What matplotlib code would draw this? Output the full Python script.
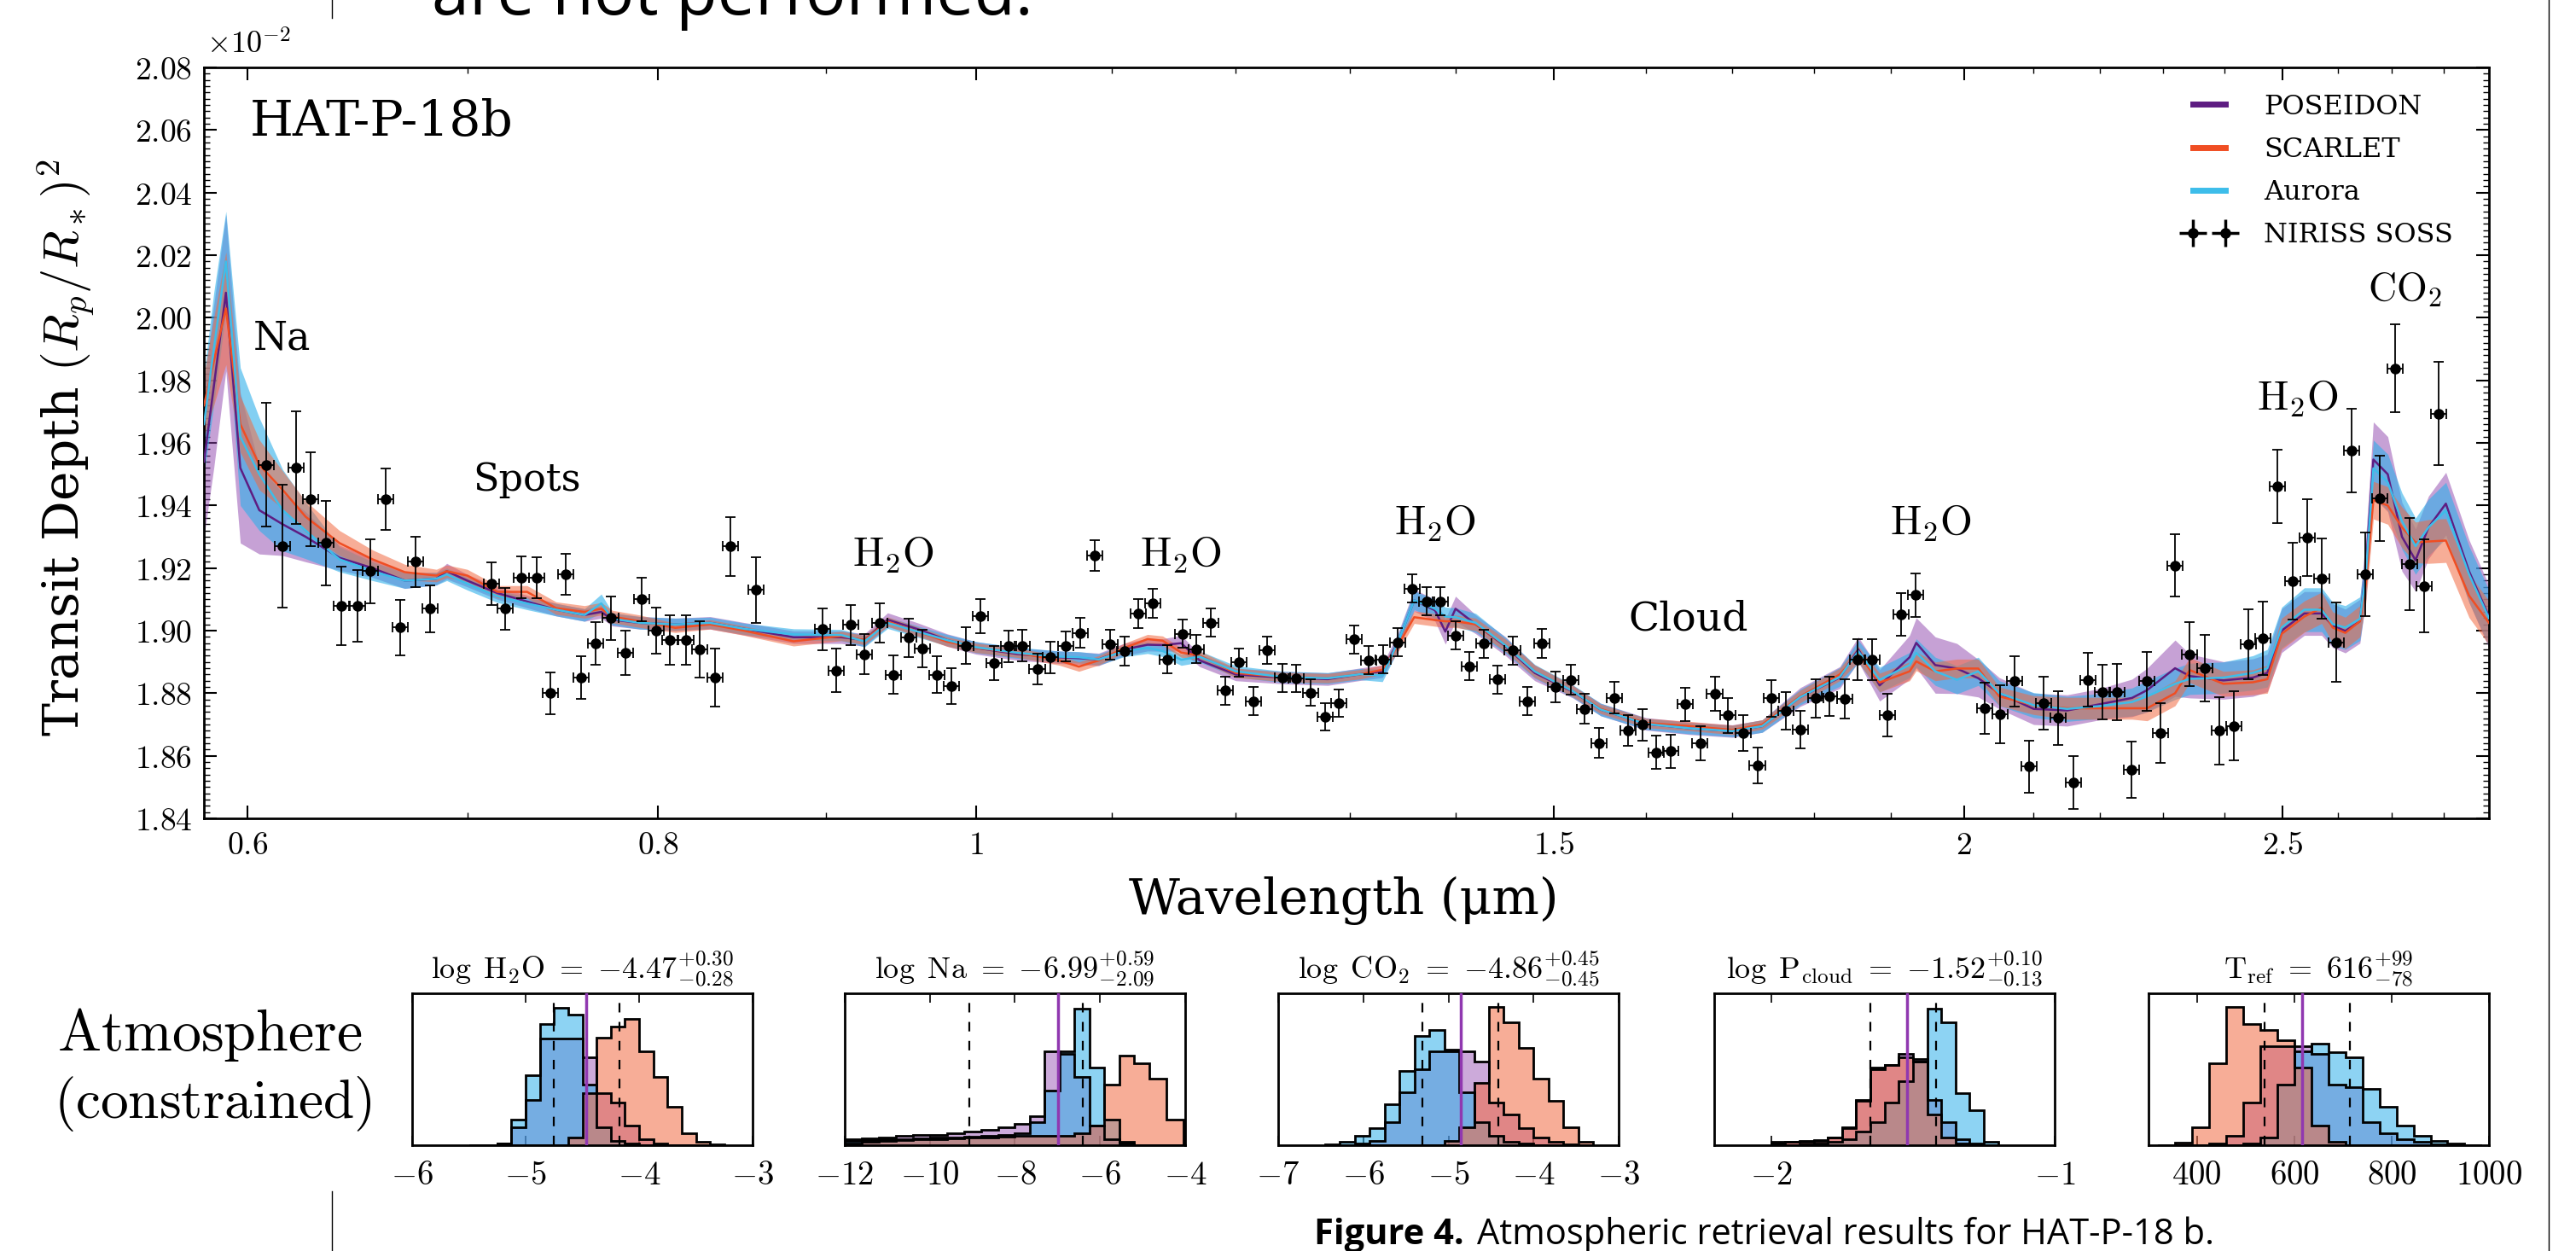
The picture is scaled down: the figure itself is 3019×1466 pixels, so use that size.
import numpy as np
import matplotlib
matplotlib.use('Agg')
import matplotlib.pyplot as plt
from matplotlib.lines import Line2D
from matplotlib.ticker import FixedLocator, FixedFormatter, MultipleLocator, NullFormatter

plt.rcParams['font.family'] = 'DejaVu Serif'
plt.rcParams['mathtext.fontset'] = 'cm'

# NIRISS SOSS transmission spectrum (transit depth in units of 1e-2)
wl = [0.608, 0.615, 0.621, 0.627, 0.634, 0.641, 0.648, 0.654, 0.661, 0.668,
      0.675, 0.682, 0.712, 0.719, 0.727, 0.735, 0.742, 0.750, 0.758, 0.766,
      0.774, 0.782, 0.791, 0.799, 0.807, 0.816, 0.824, 0.833, 0.842, 0.857,
      0.898, 0.907, 0.916, 0.925, 0.935, 0.944, 0.954, 0.963, 0.973, 0.983,
      0.993, 1.003, 1.013, 1.023, 1.033, 1.044, 1.054, 1.065, 1.076, 1.087,
      1.099, 1.110, 1.121, 1.132, 1.144, 1.156, 1.167, 1.179, 1.191, 1.203,
      1.215, 1.227, 1.240, 1.252, 1.265, 1.278, 1.290, 1.304, 1.317, 1.331,
      1.344, 1.358, 1.372, 1.385, 1.400, 1.414, 1.428, 1.442, 1.457, 1.472,
      1.487, 1.502, 1.518, 1.533, 1.548, 1.565, 1.580, 1.596, 1.612, 1.628,
      1.645, 1.662, 1.679, 1.695, 1.713, 1.730, 1.747, 1.765, 1.783, 1.802,
      1.820, 1.839, 1.856, 1.875, 1.895, 1.914, 1.933, 2.029, 2.051, 2.072,
      2.093, 2.115, 2.136, 2.159, 2.182, 2.204, 2.226, 2.249, 2.273, 2.296,
      2.319, 2.343, 2.368, 2.392, 2.416, 2.441, 2.466, 2.492, 2.518, 2.544,
      2.570, 2.597, 2.624, 2.650, 2.677, 2.706, 2.734, 2.761, 2.790]
depth = [1.953, 1.927, 1.952, 1.942, 1.928, 1.908, 1.908, 1.919, 1.942, 1.901,
         1.922, 1.907, 1.915, 1.907, 1.917, 1.917, 1.880, 1.918, 1.885, 1.896,
         1.904, 1.893, 1.910, 1.900, 1.897, 1.897, 1.894, 1.885, 1.927, 1.913,
         1.9005, 1.8873, 1.9018, 1.8924, 1.9025, 1.8859, 1.8977, 1.8943, 1.8859, 1.8823,
         1.8952, 1.9047, 1.8897, 1.8950, 1.8952, 1.8877, 1.8915, 1.8950, 1.8993, 1.9240,
         1.8956, 1.8935, 1.9054, 1.9088, 1.8908, 1.8990, 1.8941, 1.9026, 1.8808, 1.8899,
         1.8774, 1.8938, 1.8850, 1.8847, 1.8802, 1.8725, 1.8768, 1.8972, 1.8906, 1.8908,
         1.8963, 1.9135, 1.9093, 1.9093, 1.8984, 1.8886, 1.8959, 1.8844, 1.8937, 1.8774,
         1.8959, 1.8820, 1.8843, 1.8750, 1.8641, 1.8786, 1.8681, 1.8699, 1.8611, 1.8615,
         1.8765, 1.8641, 1.8799, 1.8729, 1.8672, 1.8570, 1.8784, 1.8743, 1.8684, 1.8784,
         1.8790, 1.8781, 1.8908, 1.8908, 1.8729, 1.9052, 1.9114, 1.8752, 1.8732, 1.8838,
         1.8566, 1.8768, 1.8721, 1.8515, 1.8843, 1.8804, 1.8804, 1.8555, 1.8838, 1.8673,
         1.9208, 1.8925, 1.8880, 1.8680, 1.8696, 1.8956, 1.8976, 1.9462, 1.9159, 1.9298,
         1.9166, 1.8963, 1.9575, 1.9180, 1.9423, 1.9838, 1.9213, 1.9143, 1.9694]
depth_err = [0.0197, 0.0197, 0.0180, 0.0150, 0.0136, 0.0125, 0.0115, 0.0103, 0.0098, 0.0089,
             0.0081, 0.0076, 0.0067, 0.0066, 0.0067, 0.0065, 0.0066, 0.0065, 0.0068, 0.0068,
             0.0069, 0.0071, 0.0070, 0.0074, 0.0080, 0.0079, 0.0089, 0.0093, 0.0094, 0.0105,
             0.0067, 0.0070, 0.0065, 0.0064, 0.0063, 0.0061, 0.0061, 0.0060, 0.0058, 0.0058,
             0.0058, 0.0055, 0.0054, 0.0051, 0.0051, 0.0050, 0.0050, 0.0048, 0.0048, 0.0049,
             0.0048, 0.0046, 0.0047, 0.0047, 0.0045, 0.0045, 0.0045, 0.0045, 0.0045, 0.0045,
             0.0045, 0.0044, 0.0045, 0.0044, 0.0043, 0.0044, 0.0043, 0.0045, 0.0045, 0.0045,
             0.0045, 0.0045, 0.0045, 0.0045, 0.0045, 0.0045, 0.0045, 0.0045, 0.0045, 0.0045,
             0.0047, 0.0048, 0.0048, 0.0048, 0.0048, 0.0050, 0.0050, 0.0050, 0.0053, 0.0053,
             0.0053, 0.0055, 0.0055, 0.0055, 0.0057, 0.0057, 0.0058, 0.0060, 0.0060, 0.0062,
             0.0062, 0.0063, 0.0065, 0.0065, 0.0068, 0.0068, 0.0070, 0.0082, 0.0093, 0.0080,
             0.0083, 0.0084, 0.0085, 0.0085, 0.0086, 0.0088, 0.0089, 0.0090, 0.0093, 0.0096,
             0.0100, 0.0103, 0.0106, 0.0107, 0.0110, 0.0112, 0.0117, 0.0117, 0.0123, 0.0123,
             0.0129, 0.0127, 0.0133, 0.0133, 0.0136, 0.0140, 0.0147, 0.0148, 0.0164]
bin_half_frac = 0.0054   # half bin width as a fraction of wavelength (R~95)

# retrieved model spectra: median and 1-sigma half width
model_wl = [0.582, 0.586, 0.591, 0.597, 0.605, 0.615, 0.625, 0.640, 0.655, 0.670,
            0.685, 0.690, 0.700, 0.715, 0.730, 0.745, 0.760, 0.769, 0.775, 0.790,
            0.810, 0.830, 0.850, 0.880, 0.910, 0.925, 0.940, 0.960, 0.980, 1.000,
            1.030, 1.060, 1.075, 1.090, 1.110, 1.128, 1.140, 1.155, 1.170, 1.200,
            1.240, 1.280, 1.310, 1.330, 1.345, 1.360, 1.380, 1.390, 1.400, 1.420,
            1.450, 1.480, 1.520, 1.550, 1.600, 1.650, 1.700, 1.736, 1.783, 1.833,
            1.857, 1.885, 1.925, 1.934, 1.960, 1.990, 2.020, 2.050, 2.100, 2.150,
            2.200, 2.250, 2.274, 2.319, 2.343, 2.399, 2.449, 2.474, 2.499, 2.539,
            2.570, 2.590, 2.613, 2.640, 2.651, 2.665, 2.692, 2.719, 2.745, 2.770,
            2.804, 2.850, 2.890]
aurora_med = [1.966, 1.990, 2.018, 1.962, 1.950, 1.9385, 1.932, 1.9228, 1.919, 1.916,
              1.9166, 1.918, 1.915, 1.911, 1.9087, 1.9067, 1.905, 1.9087, 1.9038, 1.9025,
              1.902, 1.9025, 1.9006, 1.8988, 1.8986, 1.8966, 1.9025, 1.8997, 1.897, 1.8947,
              1.8929, 1.8917, 1.8915, 1.8908, 1.8935, 1.8945, 1.8935, 1.8907, 1.8917, 1.887,
              1.8852, 1.8848, 1.8861, 1.8857, 1.8966, 1.9097, 1.907, 1.9045, 1.9043, 1.9025,
              1.8953, 1.887, 1.8807, 1.8748, 1.8702, 1.8688, 1.8679, 1.8695, 1.8788, 1.8852,
              1.8934, 1.8843, 1.8890, 1.8929, 1.8870, 1.8843, 1.8870, 1.8800, 1.8762, 1.8750,
              1.8759, 1.8772, 1.8790, 1.8830, 1.8846, 1.8850, 1.8865, 1.8880, 1.9010, 1.9067,
              1.9067, 1.9021, 1.9010, 1.9038, 1.9180, 1.9519, 1.9474, 1.9350, 1.9270, 1.9330,
              1.9384, 1.9180, 1.9040]
aurora_hw = [0.016, 0.018, 0.016, 0.022, 0.018, 0.013, 0.009, 0.004, 0.003, 0.0025,
             0.002, 0.002, 0.002, 0.002, 0.002, 0.002, 0.002, 0.003, 0.002, 0.002,
             0.002, 0.0018, 0.0018, 0.0018, 0.0018, 0.0018, 0.0018, 0.0018, 0.0018, 0.0018,
             0.0018, 0.0018, 0.0018, 0.0018, 0.0018, 0.0018, 0.0018, 0.0018, 0.0018, 0.0018,
             0.0018, 0.0018, 0.0018, 0.002, 0.0025, 0.003, 0.003, 0.003, 0.003, 0.003,
             0.0025, 0.0022, 0.002, 0.002, 0.0018, 0.0018, 0.0018, 0.002, 0.0025, 0.003,
             0.0035, 0.004, 0.004, 0.0045, 0.0045, 0.0045, 0.0045, 0.004, 0.004, 0.004,
             0.004, 0.0045, 0.005, 0.005, 0.005, 0.005, 0.0055, 0.006, 0.0065, 0.007,
             0.007, 0.007, 0.007, 0.007, 0.008, 0.009, 0.009, 0.009, 0.009, 0.009,
             0.009, 0.009, 0.009]
poseidon_med = [1.954, 1.978, 2.008, 1.952, 1.9385, 1.934, 1.930, 1.9233, 1.920, 1.916,
                1.9166, 1.919, 1.916, 1.912, 1.9093, 1.9067, 1.905, 1.906, 1.9035, 1.9025,
                1.902, 1.9025, 1.9006, 1.8979, 1.8979, 1.8970, 1.9035, 1.9005, 1.897, 1.8945,
                1.8925, 1.8915, 1.8912, 1.8908, 1.894, 1.8955, 1.8954, 1.8960, 1.8905, 1.886,
                1.8850, 1.8845, 1.8861, 1.8870, 1.8966, 1.9097, 1.9065, 1.8997, 1.907, 1.9020,
                1.8950, 1.8865, 1.8805, 1.8748, 1.8702, 1.8688, 1.8679, 1.8695, 1.8788, 1.8850,
                1.8940, 1.8825, 1.8915, 1.8961, 1.8890, 1.8879, 1.8848, 1.8800, 1.8750, 1.8745,
                1.8765, 1.8785, 1.8810, 1.8880, 1.8855, 1.8841, 1.8850, 1.8865, 1.9000, 1.9055,
                1.9055, 1.9016, 1.8999, 1.9030, 1.9200, 1.9547, 1.9500, 1.9300, 1.9225, 1.9330,
                1.9406, 1.9190, 1.9045]
poseidon_hw = [0.024, 0.026, 0.025, 0.024, 0.014, 0.010, 0.008, 0.004, 0.003, 0.0025,
               0.002, 0.0025, 0.002, 0.002, 0.002, 0.002, 0.002, 0.002, 0.002, 0.002,
               0.002, 0.002, 0.002, 0.002, 0.002, 0.002, 0.0022, 0.002, 0.002, 0.002,
               0.002, 0.002, 0.002, 0.002, 0.002, 0.002, 0.002, 0.0025, 0.002, 0.002,
               0.002, 0.002, 0.002, 0.002, 0.003, 0.0035, 0.0035, 0.004, 0.004, 0.003,
               0.003, 0.0025, 0.002, 0.002, 0.002, 0.002, 0.002, 0.002, 0.003, 0.0035,
               0.004, 0.005, 0.007, 0.008, 0.009, 0.008, 0.006, 0.005, 0.005, 0.005,
               0.005, 0.006, 0.007, 0.009, 0.007, 0.006, 0.006, 0.006, 0.007, 0.007,
               0.007, 0.007, 0.007, 0.007, 0.010, 0.012, 0.012, 0.011, 0.010, 0.010,
               0.010, 0.010, 0.010]
scarlet_med = [1.972, 1.986, 2.003, 1.966, 1.953, 1.945, 1.9364, 1.928, 1.9228, 1.9187,
               1.9176, 1.919, 1.9176, 1.9124, 1.9124, 1.9072, 1.906, 1.907, 1.9045, 1.903,
               1.9009, 1.902, 1.900, 1.8966, 1.8983, 1.897, 1.9029, 1.8997, 1.8965, 1.8945,
               1.8929, 1.8905, 1.8885, 1.8905, 1.8945, 1.8973, 1.8968, 1.8930, 1.8920, 1.8865,
               1.8852, 1.8848, 1.8861, 1.8875, 1.8955, 1.9043, 1.9034, 1.9030, 1.9030, 1.9020,
               1.8953, 1.8870, 1.8807, 1.8750, 1.8705, 1.8695, 1.8683, 1.8700, 1.8790, 1.8860,
               1.8925, 1.8834, 1.8870, 1.8902, 1.8870, 1.8879, 1.8879, 1.8790, 1.8762, 1.8752,
               1.8752, 1.8752, 1.8752, 1.8800, 1.8874, 1.8830, 1.8835, 1.8845, 1.8990, 1.9045,
               1.9073, 1.9010, 1.8993, 1.9030, 1.9150, 1.9417, 1.9400, 1.9330, 1.9282, 1.9285,
               1.9288, 1.9112, 1.9025]
scarlet_hw = [0.010, 0.014, 0.018, 0.009, 0.008, 0.006, 0.005, 0.004, 0.003, 0.0025,
              0.002, 0.002, 0.002, 0.002, 0.002, 0.002, 0.002, 0.002, 0.002, 0.002,
              0.0015, 0.0015, 0.0015, 0.0015, 0.0015, 0.0015, 0.0015, 0.0015, 0.0015, 0.0015,
              0.0015, 0.0015, 0.0015, 0.0015, 0.0015, 0.0015, 0.0015, 0.0015, 0.0015, 0.0015,
              0.0015, 0.0015, 0.0015, 0.0015, 0.002, 0.002, 0.002, 0.002, 0.002, 0.002,
              0.002, 0.002, 0.0018, 0.0015, 0.0015, 0.0015, 0.0015, 0.0015, 0.002, 0.002,
              0.0025, 0.003, 0.003, 0.003, 0.003, 0.003, 0.003, 0.003, 0.003, 0.0035,
              0.0035, 0.0035, 0.004, 0.004, 0.004, 0.004, 0.004, 0.0045, 0.005, 0.005,
              0.005, 0.005, 0.005, 0.005, 0.006, 0.006, 0.006, 0.0065, 0.0065, 0.007,
              0.007, 0.007, 0.007]

# posterior histograms (normalised heights)
h2o_edges = [-5.5, -5.375, -5.25, -5.125, -5.0, -4.875, -4.75, -4.625, -4.5, -4.375,
             -4.25, -4.125, -4.0, -3.875, -3.75, -3.625, -3.5, -3.375, -3.25]
h2o_poseidon = [0.0, 0.0, 0.01, 0.12, 0.30, 0.70, 0.70, 0.70, 0.58, 0.34, 0.28, 0.13, 0.04, 0.01, 0, 0, 0, 0]
h2o_aurora = [0.0, 0.002, 0.01, 0.17, 0.46, 0.80, 0.905, 0.86, 0.40, 0.12, 0.03, 0.01, 0, 0, 0, 0, 0, 0]
h2o_scarlet = [0, 0, 0, 0, 0, 0, 0, 0.05, 0.34, 0.71, 0.78, 0.83, 0.62, 0.45, 0.25, 0.08, 0.02, 0.005]

na_edges = [-12.0, -11.6, -11.2, -10.8, -10.4, -10.0, -9.6, -9.2, -8.8, -8.4, -8.0,
            -7.65, -7.3, -6.95, -6.6, -6.25, -5.9, -5.55, -5.2, -4.85, -4.45, -4.05]
na_poseidon = [0.04, 0.045, 0.05, 0.06, 0.065, 0.07, 0.08, 0.09, 0.10, 0.12, 0.14,
               0.19, 0.62, 0.60, 0.45, 0.13, 0.04, 0.01, 0, 0, 0]
na_aurora = [0.03, 0.035, 0.04, 0.04, 0.045, 0.05, 0.05, 0.055, 0.06, 0.065, 0.08,
             0.15, 0.36, 0.62, 0.90, 0.51, 0.17, 0.02, 0, 0, 0]
na_scarlet = [0.01, 0.02, 0.03, 0.035, 0.04, 0.04, 0.045, 0.05, 0.05, 0.055, 0.06,
              0.06, 0.06, 0.06, 0.08, 0.13, 0.40, 0.59, 0.54, 0.44, 0.17]

co2_edges = [-6.45, -6.275, -6.10, -5.925, -5.75, -5.575, -5.40, -5.225, -5.05, -4.875,
             -4.70, -4.525, -4.35, -4.175, -4.00, -3.825, -3.65, -3.475, -3.30]
co2_poseidon = [0.0, 0.0, 0.01, 0.03, 0.15, 0.35, 0.50, 0.62, 0.62, 0.62, 0.55, 0.28, 0.20, 0.11, 0.05, 0.02, 0.005, 0.0]
co2_aurora = [0.005, 0.02, 0.06, 0.11, 0.27, 0.49, 0.72, 0.76, 0.63, 0.35, 0.15, 0.06, 0.02, 0.01, 0, 0, 0, 0]
co2_scarlet = [0, 0, 0, 0, 0, 0, 0, 0, 0.03, 0.12, 0.41, 0.91, 0.81, 0.64, 0.44, 0.29, 0.12, 0.02]

pc_edges = [-2.00, -1.95, -1.90, -1.85, -1.80, -1.75, -1.70, -1.65, -1.60, -1.55,
            -1.50, -1.45, -1.40, -1.35, -1.30, -1.25, -1.20]
pc_poseidon = [0.01, 0.02, 0.025, 0.03, 0.05, 0.12, 0.29, 0.50, 0.53, 0.60, 0.57, 0.30, 0.15, 0.04, 0.01, 0.0]
pc_aurora = [0.0, 0.0, 0.005, 0.01, 0.02, 0.04, 0.09, 0.15, 0.28, 0.42, 0.55, 0.90, 0.81, 0.34, 0.23, 0.02]
pc_scarlet = [0.02, 0.025, 0.03, 0.035, 0.05, 0.11, 0.30, 0.51, 0.53, 0.58, 0.55, 0.20, 0.05, 0.01, 0.0, 0.0]

tref_edges = [320, 355, 390, 425, 460, 495, 530, 565, 600, 635, 670, 705, 740, 775, 810,
              845, 880, 915, 950, 985]
tref_poseidon = [0, 0, 0, 0.01, 0.06, 0.28, 0.65, 0.65, 0.65, 0.60, 0.40, 0.38, 0.15, 0.08, 0.04, 0.02, 0.005, 0, 0]
tref_aurora = [0, 0, 0, 0, 0, 0.01, 0.05, 0.40, 0.62, 0.67, 0.61, 0.58, 0.37, 0.25, 0.13, 0.06, 0.03, 0.01, 0]
tref_scarlet = [0, 0.015, 0.12, 0.54, 0.91, 0.80, 0.76, 0.69, 0.51, 0.13, 0.02, 0, 0, 0, 0, 0, 0, 0, 0]

# median, +err, -err for the panel titles
post_median = [-4.47, -6.99, -4.86, -1.52, 616]
post_plus = [0.30, 0.59, 0.45, 0.10, 99]
post_minus = [0.28, 2.09, 0.45, 0.13, 78]

# colours
c_pos, c_sca, c_aur = '#5e1d82', '#f04e23', '#3dbdea'
f_pos, f_sca, f_aur = '#8e44ad', '#f26a42', '#2fb0ea'

fig = plt.figure(figsize=(30.19, 14.66), dpi=100)
ax = fig.add_axes([0.0792, 0.3458, 0.8870, 0.6003])

mw = np.array(model_wl)
for med, hw, fc, a in [(poseidon_med, poseidon_hw, f_pos, 0.5),
                       (aurora_med, aurora_hw, f_aur, 0.6),
                       (scarlet_med, scarlet_hw, f_sca, 0.55)]:
    med = np.array(med); hw = np.array(hw)
    ax.fill_between(mw, med - hw, med + hw, color=fc, alpha=a, lw=0, zorder=2)
ax.plot(mw, poseidon_med, color=c_pos, lw=1.8, zorder=3)
ax.plot(mw, scarlet_med, color=c_sca, lw=1.8, zorder=3)
ax.plot(mw, aurora_med, color=c_aur, lw=1.8, zorder=3)

w = np.array(wl)
ax.errorbar(w, depth, xerr=w * bin_half_frac, yerr=depth_err, fmt='o', color='k',
            ms=8, elinewidth=1.3, capsize=4.5, capthick=1.3, zorder=5)

ax.set_xscale('log')
ax.set_xlim(0.582, 2.89)
ax.set_ylim(1.84, 2.08)
xt = [0.6, 0.8, 1.0, 1.5, 2.0, 2.5]
ax.xaxis.set_major_locator(FixedLocator(xt))
ax.xaxis.set_major_formatter(FixedFormatter(['$0.6$', '$0.8$', '$1$', '$1.5$', '$2$', '$2.5$']))
ax.xaxis.set_minor_locator(FixedLocator([0.7, 0.9, 1.1, 1.2, 1.3, 1.4, 1.6, 1.7, 1.8, 1.9,
                                         2.1, 2.2, 2.3, 2.4, 2.6, 2.7, 2.8]))
ax.xaxis.set_minor_formatter(NullFormatter())
yt = [1.84 + 0.02 * i for i in range(13)]
ax.yaxis.set_major_locator(FixedLocator(yt))
ax.yaxis.set_major_formatter(FixedFormatter(['$%.2f$' % v for v in yt]))
ax.yaxis.set_minor_locator(MultipleLocator(0.002))
ax.tick_params(which='both', direction='in', top=True, right=True, labelsize=27)
ax.tick_params(which='major', length=11, width=1.5, pad=10)
ax.tick_params(which='minor', length=5, width=1.0)
for s in ax.spines.values():
    s.set_linewidth(2)

fig.text(0.0802, 0.9645, r'$\times10^{-2}$', fontsize=26, va='center', ha='left')
fig.text(0.0255, 0.642, r'Transit Depth $(R_p/R_*)^2$', fontsize=42, rotation=90,
         ha='center', va='center')
fig.text(0.5217, 0.2804, 'Wavelength (μm)', fontsize=42, ha='center', va='center')

ax.text(0.0202, 0.909, 'HAT-P-18b', transform=ax.transAxes, fontsize=42, va='baseline')
ax.text(0.6026, 1.9898, 'Na', fontsize=33, va='baseline')
ax.text(0.7026, 1.9447, 'Spots', fontsize=32, va='baseline')
ax.text(1.580, 1.9002, 'Cloud', fontsize=34, va='baseline')
for x0, y0 in [(0.917, 1.9206), (1.122, 1.9206), (1.341, 1.9306), (1.899, 1.9306), (2.456, 1.9705)]:
    ax.text(x0, y0, r'$\mathrm{H_2O}$', fontsize=35, va='baseline')
ax.text(2.655, 2.0056, r'$\mathrm{CO_2}$', fontsize=33, va='baseline')

handles = [Line2D([], [], color=c_pos, lw=5), Line2D([], [], color=c_sca, lw=5),
           Line2D([], [], color=c_aur, lw=5)]
eb = ax.errorbar([], [], xerr=[], yerr=[], fmt='o', color='k', ms=8, elinewidth=2.5,
                 capsize=5, capthick=1.5)
ax.legend(handles + [eb], ['POSEIDON', 'SCARLET', 'Aurora', 'NIRISS SOSS'],
          loc='upper right', bbox_to_anchor=(0.995, 0.998), frameon=False, fontsize=23,
          numpoints=2, handlelength=1.8, handletextpad=1.1, labelspacing=0.6)

# posterior panels
panels = [
    (0.1600, h2o_edges, h2o_poseidon, h2o_aurora, h2o_scarlet, (-6, -3), [-6, -5, -4, -3],
     r'$\log\ \mathrm{H_2O}\ =\ {-4.47}^{+0.30}_{-0.28}$'),
    (0.3279, na_edges, na_poseidon, na_aurora, na_scarlet, (-12, -4), [-12, -10, -8, -6, -4],
     r'$\log\ \mathrm{Na}\ =\ {-6.99}^{+0.59}_{-2.09}$'),
    (0.4962, co2_edges, co2_poseidon, co2_aurora, co2_scarlet, (-7, -3), [-7, -6, -5, -4, -3],
     r'$\log\ \mathrm{CO_2}\ =\ {-4.86}^{+0.45}_{-0.45}$'),
    (0.6655, pc_edges, pc_poseidon, pc_aurora, pc_scarlet, (-2.2, -1.0), [-2, -1],
     r'$\log\ \mathrm{P_{cloud}}\ =\ {-1.52}^{+0.10}_{-0.13}$'),
    (0.8340, tref_edges, tref_poseidon, tref_aurora, tref_scarlet, (300, 1000), [400, 600, 800, 1000],
     r'$\mathrm{T_{ref}}\ =\ 616^{+99}_{-78}$'),
]
for i, (x0, edges, hp, ha_, hs, xl, ticks, title) in enumerate(panels):
    axh = fig.add_axes([x0, 0.0846, 0.1322, 0.1214])
    for h, fc, a in [(hp, f_pos, 0.45), (ha_, f_aur, 0.55), (hs, f_sca, 0.55)]:
        axh.stairs(h, edges, fill=True, color=fc, alpha=a, zorder=2)
    for h in [hp, ha_, hs]:
        axh.stairs(h, edges, color='k', lw=2, zorder=3)
    m = post_median[i]
    axh.axvline(m - post_minus[i], color='k', ls=(0, (5, 5)), lw=1.6, zorder=4)
    axh.axvline(m + post_plus[i], color='k', ls=(0, (5, 5)), lw=1.6, zorder=4)
    axh.axvline(m, color='#9038b0', lw=2.5, zorder=4)
    axh.set_xlim(*xl)
    axh.set_ylim(0, 1.0)
    axh.set_yticks([])
    axh.xaxis.set_major_locator(FixedLocator(ticks))
    axh.xaxis.set_major_formatter(FixedFormatter(['$%g$' % t for t in ticks]))
    axh.tick_params(direction='in', top=True, labelsize=28, length=8, width=1.2, pad=12)
    for s in axh.spines.values():
        s.set_linewidth(2)
    axh.set_title(title, fontsize=26, pad=12)

fig.text(0.0815, 0.1603, r'$\mathrm{Atmosphere}$', fontsize=49, ha='center', va='baseline')
fig.text(0.0825, 0.1064, r'$\mathrm{(constrained)}$', fontsize=47, ha='center', va='baseline')

# page furniture around the figure
fig.add_artist(Line2D([0.1288, 0.1288], [0.986, 1.0], color='k', lw=1))
fig.add_artist(Line2D([0.1288, 0.1288], [0.0, 0.048], color='k', lw=1))
fig.add_artist(Line2D([0.9894, 0.9894], [0.0, 1.0], color='k', lw=1))
fig.text(0.1675, 0.9884, 'are not performed.', fontsize=57, family='Open Sans', va='baseline')
fig.text(0.5100, 0.0055, 'Figure 4.', fontsize=30, family='Open Sans', weight='bold', va='baseline')
fig.text(0.5735, 0.0055, 'Atmospheric retrieval results for HAT-P-18 b.', fontsize=30,
         family='Open Sans', va='baseline')

fig.savefig('out.png', dpi=100)
